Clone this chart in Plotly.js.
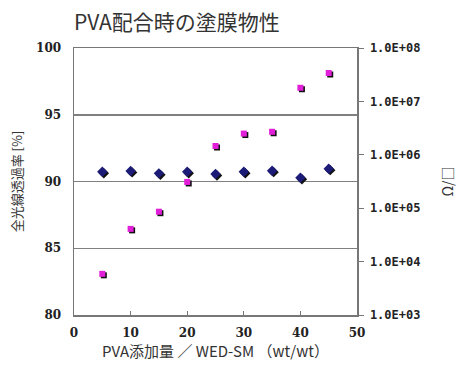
<!DOCTYPE html>
<html><head><meta charset="utf-8">
<script src="https://cdn.plot.ly/plotly-3.0.1.min.js"></script>
<style>body{margin:0;background:#fff}#c{width:474px;height:367px}</style>
</head><body><div id="c"></div>
<script>
var pvaAmount = [5, 10, 15, 20, 25, 30, 35, 40, 45];
var transmittance = [90.73, 90.79, 90.61, 90.73, 90.56, 90.73, 90.81, 90.28, 90.96];
var resistivity = [5.9e3, 4.1e4, 8.6e4, 3.1e5, 1.46e6, 2.5e6, 2.7e6, 1.8e7, 3.4e7];
var rightTickVals = [1e3, 1e4, 1e5, 1e6, 1e7, 1e8];
var rightTickText = ['1.0E+03', '1.0E+04', '1.0E+05', '1.0E+06', '1.0E+07', '1.0E+08'];

var traces = [
  // anchors for the visible axes (invisible markers)
  {x: pvaAmount, y: transmittance, xaxis: 'x', yaxis: 'y', mode: 'markers', type: 'scatter',
   marker: {opacity: 0}, hoverinfo: 'skip'},
  {x: pvaAmount, y: resistivity, xaxis: 'x', yaxis: 'y2', mode: 'markers', type: 'scatter',
   marker: {opacity: 0}, hoverinfo: 'skip'},
  // shadows (shifted overlay axes)
  {x: pvaAmount, y: transmittance, xaxis: 'x2', yaxis: 'y3', mode: 'markers', type: 'scatter',
   marker: {symbol: 'diamond', color: '#111', size: 8}, hoverinfo: 'skip'},
  {x: pvaAmount, y: resistivity, xaxis: 'x2', yaxis: 'y4', mode: 'markers', type: 'scatter',
   marker: {symbol: 'square', color: '#111', size: 6}, hoverinfo: 'skip'},
  // coloured markers
  {x: pvaAmount, y: transmittance, xaxis: 'x3', yaxis: 'y5', mode: 'markers', type: 'scatter',
   marker: {symbol: 'diamond', color: '#1c1c78', size: 8}, name: '全光線透過率'},
  {x: pvaAmount, y: resistivity, xaxis: 'x3', yaxis: 'y6', mode: 'markers', type: 'scatter',
   marker: {symbol: 'square', color: '#e21fd8', size: 6}, name: 'Ω/□'}
];

var serif = {family: 'DejaVu Serif', size: 12, color: '#222', weight: 'bold'};
var layout = {
  width: 474, height: 367,
  margin: {l: 74, r: 117, t: 48, b: 52},
  paper_bgcolor: '#fff', plot_bgcolor: '#fff',
  showlegend: false,
  annotations: [
    {text: 'PVA配合時の塗膜物性', font: {family: 'Noto Sans CJK JP', size: 21, color: '#333'},
     xref: 'paper', x: -0.008, xanchor: 'left', yref: 'paper', y: 1.0, yshift: 27, yanchor: 'middle', showarrow: false},
    {text: 'Ω/□', textangle: -90, font: {family: 'Noto Sans CJK JP', size: 14, color: '#333'},
     xref: 'paper', x: 1, xshift: 89, xanchor: 'center', yref: 'paper', y: 0.5, yanchor: 'middle', showarrow: false}
  ],
  xaxis: {range: [0, 50], dtick: 10, tick0: 0, showgrid: false, zeroline: false,
          showline: true, linecolor: '#777', linewidth: 1.5, mirror: true,
          ticks: 'inside', ticklen: 4, tickcolor: '#777', ticklabelstandoff: 6,
          tickfont: serif,
          title: {text: 'PVA添加量 ／ WED-SM （wt/wt）', font: {family: 'Noto Sans CJK JP', size: 15, color: '#333'}, standoff: 2}},
  xaxis2: {range: [-0.27, 49.73], overlaying: 'x', visible: false},
  xaxis3: {range: [0, 50], overlaying: 'x', visible: false},
  yaxis: {range: [80, 100], dtick: 5, tick0: 80, showgrid: true, gridcolor: '#808080', gridwidth: 1.5,
          zeroline: false, showline: true, linecolor: '#777', linewidth: 1.5,
          ticks: '', ticklabelstandoff: 9, tickfont: serif,
          title: {text: '全光線透過率 [%]', font: {family: 'Noto Sans CJK JP', size: 13, color: '#333'}, standoff: 10}},
  yaxis2: {type: 'log', range: [3, 8], overlaying: 'y', side: 'right',
           tickvals: rightTickVals, ticktext: rightTickText, showgrid: false, zeroline: false,
           showline: true, linecolor: '#777', linewidth: 1.5,
           ticks: 'outside', ticklen: 5, tickcolor: '#777', ticklabelstandoff: 4,
           tickfont: {family: 'DejaVu Sans Mono', size: 12, color: '#222', weight: 'bold'}},
  yaxis3: {range: [80.11, 100.11], overlaying: 'y', visible: false},
  yaxis4: {type: 'log', range: [3.028, 8.028], overlaying: 'y', visible: false},
  yaxis5: {range: [80, 100], overlaying: 'y', visible: false},
  yaxis6: {type: 'log', range: [3, 8], overlaying: 'y', visible: false}
};
Plotly.newPlot('c', traces, layout, {displayModeBar: false, staticPlot: true});
</script></body></html>
